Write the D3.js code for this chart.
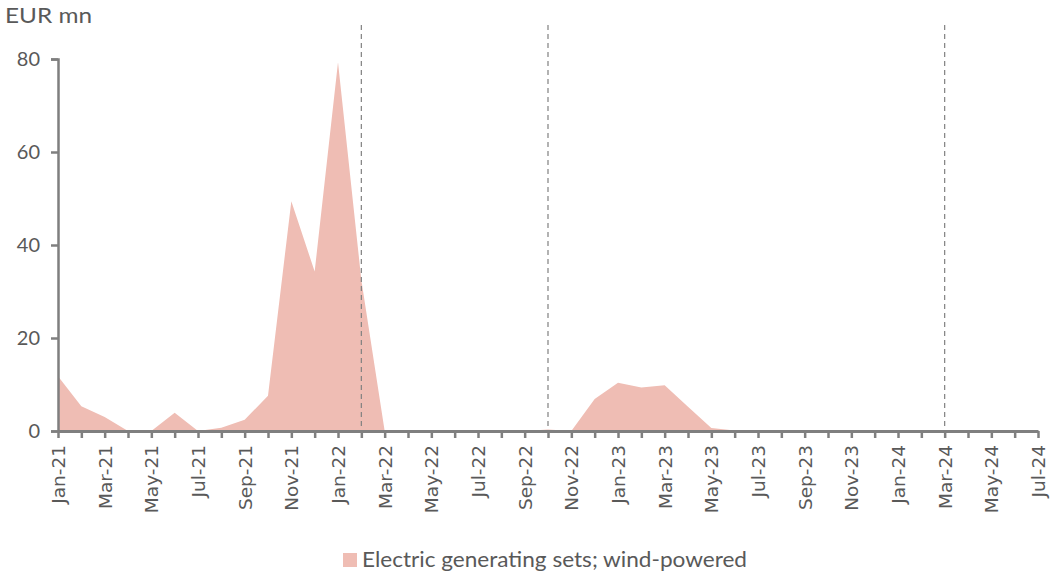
<!DOCTYPE html>
<html>
<head>
<meta charset="utf-8">
<script src="https://cdn.jsdelivr.net/npm/d3@7"></script>
<style>
  html, body { margin: 0; padding: 0; background: #fff; }
  svg { display: block; }
</style>
</head>
<body>
<svg id="chart" width="1050" height="574"></svg>
<script>
// Monthly imports, Jan-21 .. Jul-24
const months = ["Jan-21","Feb-21","Mar-21","Apr-21","May-21","Jun-21","Jul-21","Aug-21","Sep-21","Oct-21","Nov-21","Dec-21",
  "Jan-22","Feb-22","Mar-22","Apr-22","May-22","Jun-22","Jul-22","Aug-22","Sep-22","Oct-22","Nov-22","Dec-22",
  "Jan-23","Feb-23","Mar-23","Apr-23","May-23","Jun-23","Jul-23","Aug-23","Sep-23","Oct-23","Nov-23","Dec-23",
  "Jan-24","Feb-24","Mar-24","Apr-24","May-24","Jun-24","Jul-24"];
const windSets = [11.8, 5.3, 3.0, 0, 0, 3.9, 0, 0.7, 2.4, 7.6, 49.4, 34.3,
  79.3, 32.5, 0, 0, 0, 0, 0, 0, 0, 0.3, 0, 6.9,
  10.4, 9.35, 9.85, 5.2, 0.65, 0.1, 0.1, 0.1, 0.1, 0.1, 0.1, 0.2,
  0.2, 0.15, 0.1, 0.1, 0.1, 0.1, 0.1];
const seriesName = "Electric generating sets; wind-powered";
const yTicks = [0, 20, 40, 60, 80];
const markerMonths = ["Feb-22", "Oct-22", "Mar-24"];

const svg = d3.select("#chart");
const plot = { left: 58, right: 1038, top: 59, bottom: 431 };

const x = d3.scalePoint().domain(months).range([plot.left, plot.right]);
const y = d3.scaleLinear().domain([0, 80]).range([plot.bottom, plot.top]);

const axisColor = "#7f7f7f";
const textColor = "#595959";
const fillColor = "#efbdb4";
const bodyFont = "Lato, 'Open Sans', sans-serif";

// area
const area = d3.area()
  .x((d, i) => x(months[i]))
  .y0(y(0))
  .y1(d => y(d));
svg.append("path")
  .datum(windSets)
  .attr("d", area)
  .attr("fill", fillColor);

// dashed markers
svg.selectAll("line.marker")
  .data(markerMonths)
  .enter().append("line")
  .attr("class", "marker")
  .attr("x1", d => x(d)).attr("x2", d => x(d))
  .attr("y1", 25).attr("y2", plot.bottom)
  .attr("stroke", "#808080")
  .attr("stroke-width", 1.2)
  .attr("stroke-dasharray", "5,4");

// y axis
const yAxis = svg.append("g")
  .attr("transform", `translate(${plot.left},0)`)
  .call(d3.axisLeft(y).tickValues(yTicks).tickSize(7).tickPadding(11).tickFormat(d3.format("d")));
yAxis.select(".domain").attr("stroke", axisColor).attr("stroke-width", 2.5);
yAxis.selectAll(".tick line").attr("stroke", axisColor).attr("stroke-width", 2.5);
yAxis.selectAll(".tick text")
  .attr("fill", textColor)
  .style("font-family", bodyFont)
  .style("font-size", "20px");

// x axis
const xAxis = svg.append("g")
  .attr("transform", `translate(0,${plot.bottom})`)
  .call(d3.axisBottom(x).tickSize(7).tickSizeOuter(0)
    .tickFormat((d, i) => i % 2 === 0 ? d : ""));
xAxis.select(".domain").attr("stroke", axisColor).attr("stroke-width", 3);
xAxis.selectAll(".tick line").attr("stroke", axisColor).attr("stroke-width", 2.5);
xAxis.selectAll(".tick text")
  .attr("fill", textColor)
  .style("font-family", "'DejaVu Sans', sans-serif")
  .style("font-size", "18.5px")
  .attr("text-anchor", "end")
  .attr("transform", "rotate(-90)")
  .attr("x", -14)
  .attr("y", 0)
  .attr("dy", "0.35em");

// unit label
svg.append("text")
  .attr("x", 5).attr("y", 23)
  .attr("fill", textColor)
  .style("font-family", bodyFont)
  .style("font-size", "21px")
  .attr("textLength", 87)
  .attr("lengthAdjust", "spacingAndGlyphs")
  .text("EUR mn");

// legend
const legend = svg.append("g").attr("transform", "translate(343,553)");
legend.append("rect").attr("x", 0).attr("y", 0).attr("width", 14).attr("height", 14).attr("fill", fillColor);
legend.append("text")
  .attr("x", 19).attr("y", 14)
  .attr("fill", textColor)
  .style("font-family", bodyFont)
  .style("font-size", "22px")
  .attr("textLength", 385)
  .attr("lengthAdjust", "spacingAndGlyphs")
  .text(seriesName);
</script>
</body>
</html>
